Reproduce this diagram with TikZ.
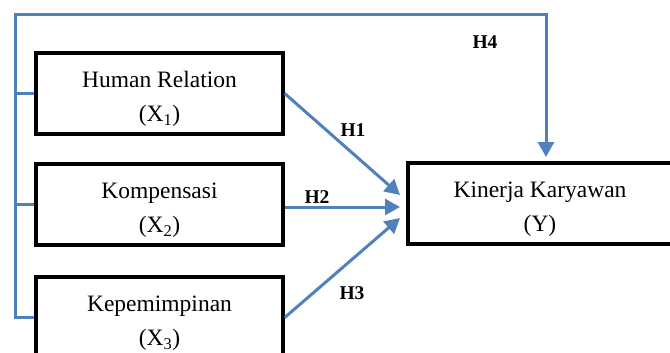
\documentclass[tikz,border=0pt]{standalone}
\usepackage{fontspec}
\setmainfont{Liberation Serif}
\usetikzlibrary{arrows.meta}
\definecolor{lblue}{RGB}{79,129,189}
\newcommand{\boxtext}[2]{\raisebox{-4.5pt}[\height][\depth]{\begin{tabular}{@{}c@{}}#1\\#2\end{tabular}}}
\begin{document}
\begin{tikzpicture}[x=1pt,y=-1pt,
 box/.style={draw=black,line width=3.5pt,minimum width=247pt,minimum height=81pt,align=center,inner sep=0pt,font=\fontsize{23.5}{34}\selectfont},
 link/.style={draw=lblue,line width=3pt,line join=miter},
 arr/.style={link,-{Triangle[length=15pt,width=16pt]}},
 hlab/.style={font=\fontsize{19.5}{20}\selectfont\bfseries}]
\useasboundingbox (0,0) rectangle (670,353);
\clip (0,0) rectangle (670,353);
\node[box] (b1) at (159.5,93.5) {\boxtext{Human Relation}{(X\textsubscript{1})}};
\node[box] (b2) at (159.5,204.5) {\boxtext{Kompensasi}{(X\textsubscript{2})}};
\node[box] (b3) at (159.5,317.5) {\boxtext{Kepemimpinan}{(X\textsubscript{3})}};
\node[box,minimum width=264pt] (y) at (540,203.5) {\boxtext{Kinerja Karyawan}{(Y)}};
\coordinate (t1) at (400,195);
\coordinate (t2) at (400,207);
\coordinate (t3) at (400,218);
\coordinate (c1) at (15,15);
\coordinate (c2) at (546,15);
\coordinate (t4) at (546,157);
\draw[arr] (b1.east) -- (t1);
\draw[arr] ([yshift=-2.5pt]b2.east) -- (t2);
\draw[arr] (b3.east) -- (t3);
\draw[link] (b1.west) -- (b1.west -| c1);
\draw[link] (b2.west) -- (b2.west -| c1);
\draw[arr] (b3.west) -- (b3.west -| c1) -- (c1) -- (c2) -- (t4);
\node[hlab] (h1) at (353,130) {H1};
\node[hlab] (h2) at (317,197) {H2};
\node[hlab] (h3) at (352,293) {H3};
\node[hlab] (h4) at (485,42) {H4};
\end{tikzpicture}
\end{document}
